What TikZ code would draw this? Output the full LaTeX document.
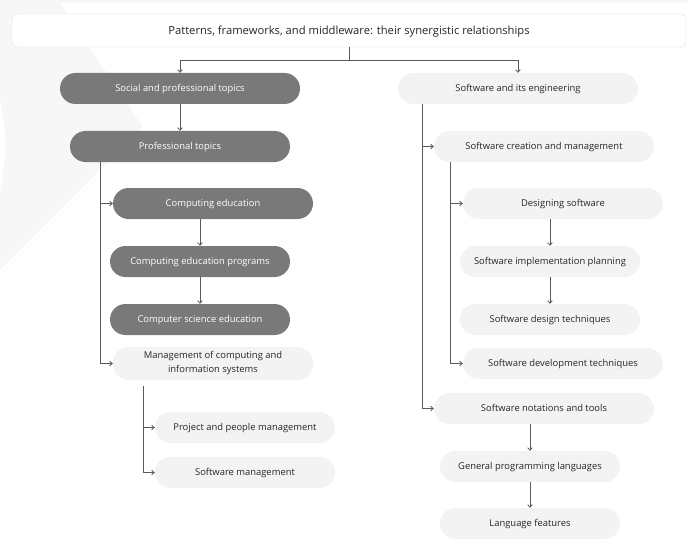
\documentclass[tikz,border=0pt]{standalone}
\usepackage{fontspec}
\setmainfont{Open Sans}
\usepackage{tikz}
\usetikzlibrary{arrows.meta}
\usetikzlibrary{positioning}
\definecolor{boxdark}{HTML}{797979}
\definecolor{boxlight}{HTML}{F3F3F3}
\definecolor{linkgray}{HTML}{5A5A5A}
\definecolor{inkgray}{HTML}{262626}
\definecolor{titleedge}{HTML}{DDDDDD}
\definecolor{backshade}{HTML}{F7F7F7}
\tikzstyle{topic}=[rounded corners=15.5pt,minimum height=31pt,inner sep=2pt,font=\fontsize{9.4}{12}\selectfont,text height=8.6pt,text depth=2.2pt]
\tikzstyle{twoline}=[align=center,text height=,text depth=,font=\fontsize{9.4}{14}\selectfont]
\tikzstyle{dark}=[fill=boxdark,text=white]
\tikzstyle{light}=[fill=boxlight,text=inkgray]
\tikzstyle{link}=[draw=linkgray,line width=0.8pt,-{Straight Barb[length=2.5pt,width=4.5pt]}]

\begin{document}
\begin{tikzpicture}[x=1pt,y=-1pt]
\useasboundingbox (0,0) rectangle (697,551);
% faint backdrop
\fill [backshade] (0,0) -- (687,0) -- (687,3) -- (60,3) -- (143,127) -- (0,270) -- cycle;
\fill [white] (-200,145) circle (205);

\node [draw=titleedge,fill=white,rounded corners=5pt,minimum width=674pt,minimum height=33pt,
  font=\fontsize{11.2}{13}\selectfont,text=inkgray,text height=10pt,text depth=2.6pt] (title) at (349,30.5)
  {Patterns, frameworks, and middleware: their synergistic relationships};

% left branch
\node [topic,dark,minimum width=240pt] (social) at (180,88.5) {Social and professional topics};
\node [topic,dark,minimum width=220pt] (prof) at (180,146.5) {Professional topics};
\node [topic,dark,minimum width=200pt] (compedu) at (213,203.5) {Computing education};
\node [topic,dark,minimum width=180pt] (progs) at (200,261.5) {Computing education programs};
\node [topic,dark,minimum width=180pt] (csedu) at (200,319.5) {Computer science education};
\node [topic,twoline,light,minimum width=200pt,minimum height=33pt] (mgmt) at (213,363.5) {Management of computing and\\information systems};
\node [topic,light,minimum width=180pt] (people) at (245,427.5) {Project and people management};
\node [topic,light,minimum width=180pt] (swmgmt) at (245,472.5) {Software management};

% right branch
\node [topic,light,minimum width=240pt] (soft) at (518,88.5) {Software and its engineering};
\node [topic,light,minimum width=220pt] (create) at (544,146.5) {Software creation and management};
\node [topic,light,minimum width=200pt] (design) at (563,203.5) {Designing software};
\node [topic,light,minimum width=180pt] (impl) at (550,261.5) {Software implementation planning};
\node [topic,light,minimum width=180pt] (techniq) at (550,319.5) {Software design techniques};
\node [topic,light,minimum width=200pt] (devtech) at (563,363.5) {Software development techniques};
\node [topic,light,minimum width=220pt] (tools) at (544,408.5) {Software notations and tools};
\node [topic,light,minimum width=180pt] (general) at (530,466.5) {General programming languages};
\node [topic,light,minimum width=180pt] (features) at (530,523.5) {Language features};

% connectors
\coordinate (split) at (349,60);
\draw [draw=linkgray,line width=0.8pt] (title.south) -- (split);
\draw [link] (split) -| (social.north);
\draw [link] (split) -| (soft.north);

\draw [link] (social) -- (prof);
\draw [link] ([xshift=-80pt]prof.south) |- (compedu.west);
\draw [link] ([xshift=-80pt]prof.south) |- (mgmt.west);
\draw [link] (compedu.south -| progs.north) -- (progs.north);
\draw [link] (progs) -- (csedu);
\draw [link] ([xshift=-70pt,yshift=-6pt]mgmt.south) |- (people.west);
\draw [link] ([xshift=-70pt,yshift=-6pt]mgmt.south) |- (swmgmt.west);

\draw [link] ([xshift=-96pt]soft.south) |- (create.west);
\draw [link] ([xshift=-96pt]soft.south) |- (tools.west);
\draw [link] ([xshift=-94pt]create.south) |- (design.west);
\draw [link] ([xshift=-94pt]create.south) |- (devtech.west);
\draw [link] (design.south -| impl.north) -- (impl.north);
\draw [link] (impl) -- (techniq);
\draw [link] (tools.south -| general.north) -- (general.north);
\draw [link] (general) -- (features);
\end{tikzpicture}
\end{document}
